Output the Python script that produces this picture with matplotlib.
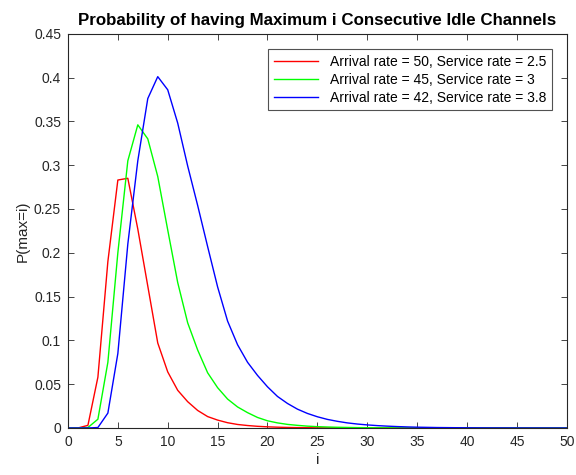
import numpy as np
import matplotlib
matplotlib.use("Agg")
import matplotlib.pyplot as plt

plt.rcParams["font.family"] = ["Liberation Sans", "DejaVu Sans"]

# i = 0..50
idle_channels = list(range(0, 51))

p_red = [0, 0, 0.003, 0.058, 0.19, 0.283, 0.285, 0.227, 0.162, 0.097,
         0.064, 0.043, 0.030, 0.020, 0.013, 0.009, 0.006, 0.004, 0.0028, 0.0019,
         0.0013, 0.0009, 0.0006, 0.0004, 0.0003, 0.0002, 0.00013, 0.0001, 0.00007, 0.00005,
         0.00003, 0.00002, 0.00001, 0, 0, 0, 0, 0, 0, 0,
         0, 0, 0, 0, 0, 0, 0, 0, 0, 0, 0]

p_green = [0, 0, 0.0005, 0.010, 0.075, 0.200, 0.305, 0.346, 0.330, 0.287,
           0.226, 0.166, 0.120, 0.089, 0.063, 0.046, 0.033, 0.024, 0.0175, 0.012,
           0.0082, 0.0058, 0.0041, 0.0030, 0.0021, 0.0015, 0.0011, 0.0008, 0.0006, 0.0004,
           0.0003, 0.0002, 0.00015, 0.0001, 0.00007, 0.00005, 0.00003, 0.00002, 0.00001, 0,
           0, 0, 0, 0, 0, 0, 0, 0, 0, 0, 0]

p_blue = [0, 0, 0, 0.0005, 0.017, 0.085, 0.210, 0.305, 0.376, 0.401,
          0.386, 0.348, 0.299, 0.254, 0.207, 0.161, 0.122, 0.095, 0.075, 0.060,
          0.047, 0.036, 0.028, 0.0215, 0.0166, 0.0128, 0.0098, 0.0076, 0.0058, 0.0045,
          0.0035, 0.0027, 0.0021, 0.0016, 0.0012, 0.0009, 0.0007, 0.0005, 0.0004, 0.0003,
          0.0002, 0.00015, 0.0001, 0.00008, 0.00006, 0.00004, 0.00003, 0.00002, 0.00001, 0, 0]

labels = ["Arrival rate = 50, Service rate = 2.5",
          "Arrival rate = 45, Service rate = 3",
          "Arrival rate = 42, Service rate = 3.8"]

x_ticks = [0, 5, 10, 15, 20, 25, 30, 35, 40, 45, 50]
y_ticks = [0, 0.05, 0.1, 0.15, 0.2, 0.25, 0.3, 0.35, 0.4, 0.45]
y_tick_labels = ["0", "0.05", "0.1", "0.15", "0.2", "0.25", "0.3", "0.35", "0.4", "0.45"]

axis_color = "#262626"

fig = plt.figure(figsize=(5.76, 4.75), dpi=100)
ax = fig.add_axes([0.118, 0.099, 0.866, 0.830])

ax.plot(idle_channels, p_red, color=(1, 0, 0), lw=1.0, label=labels[0])
ax.plot(idle_channels, p_green, color=(0, 1, 0), lw=1.0, label=labels[1])
ax.plot(idle_channels, p_blue, color=(0, 0, 1), lw=1.0, label=labels[2])

ax.set_xlim(0, 50)
ax.set_ylim(0, 0.45)
ax.set_xticks(x_ticks)
ax.set_yticks(y_ticks)
ax.set_yticklabels(y_tick_labels)

ax.tick_params(direction="in", top=True, right=True, length=4, width=0.6,
               colors=axis_color, labelsize=10, pad=5)
for spine in ax.spines.values():
    spine.set_color(axis_color)
    spine.set_linewidth(0.8)

ax.set_title("Probability of having Maximum i Consecutive Idle Channels",
             fontsize=12.2, fontweight="bold", pad=6)
ax.set_xlabel("i", fontsize=11, color=axis_color, labelpad=3)
ax.set_ylabel("P(max=i)", fontsize=11, color=axis_color, labelpad=3)

leg = ax.legend(loc="upper right", fontsize=10, frameon=True, fancybox=False,
                edgecolor=axis_color, handlelength=3.2, borderpad=0.4,
                labelspacing=0.3, borderaxespad=1.1)
leg.get_frame().set_linewidth(0.8)

fig.savefig("out.png", dpi=100)
